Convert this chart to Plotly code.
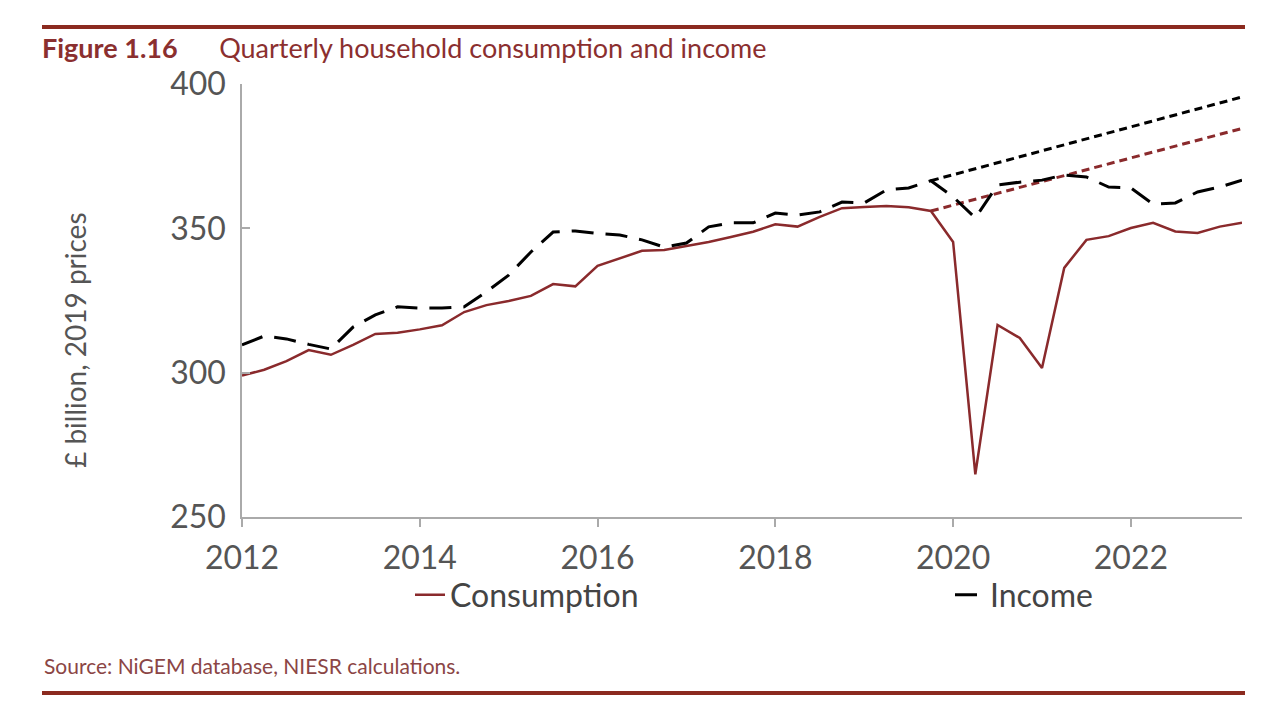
import plotly.graph_objects as go

# ---- data ----
start_year = 2012.0
consumption = [299, 301, 304, 307.8, 306.2, 309.6, 313.4, 313.8, 315, 316.4,
               321, 323.4, 324.8, 326.6, 330.7, 329.9, 337, 339.7, 342.2, 342.5,
               343.9, 345.3, 347, 348.8, 351.4, 350.6, 354, 357, 357.4, 357.7,
               357.3, 356, 345.3, 264.8, 316.5, 312, 301.6, 336.3, 346, 347.3,
               350.1, 351.9, 348.9, 348.4, 350.6, 351.9]
income = [309.6, 312.7, 311.7, 309.8, 308.2, 315.8, 320, 322.8, 322.4, 322.4,
          322.8, 328, 333.8, 341.8, 348.7, 349.1, 348.2, 347.7, 346, 343.5,
          344.9, 350.5, 351.9, 351.9, 355.3, 354.6, 355.7, 359.1, 358.8, 363.3,
          364, 366.5, 360.9, 353.6, 365, 366, 366.7, 368.5, 367.8, 364.3,
          364, 358.4, 358.8, 362.6, 364.3, 366.7]
quarters = [start_year + 0.25 * i for i in range(len(consumption))]

trend_x = [2019.75, 2023.25]
consumption_trend = [356.0, 384.6]
income_trend = [366.5, 395.5]

x_ticks = [2012, 2014, 2016, 2018, 2020, 2022]
y_ticks = [250, 300, 350, 400]

RED = "#8a2a2c"
TITLE_RED = "#8b2f2f"
RULE = "#8b2a1f"
FONT = "Lato"

# the page body adds an 8px margin, so the figure is sized to fit
W, H = 1272, 712

def px(xp):   # reference x pixel -> paper coordinate
    return (xp - 242) / 1000

def py(yp):   # reference y pixel -> paper coordinate
    return (517 - yp) / 433

fig = go.Figure()
fig.add_trace(go.Scatter(x=trend_x, y=income_trend, mode="lines",
                         line=dict(color="black", width=3, dash="8px,5px"),
                         showlegend=False, hoverinfo="skip"))
fig.add_trace(go.Scatter(x=trend_x, y=consumption_trend, mode="lines",
                         line=dict(color=RED, width=3, dash="8px,5px"),
                         showlegend=False, hoverinfo="skip"))
fig.add_trace(go.Scatter(x=quarters, y=consumption, mode="lines", name="Consumption",
                         line=dict(color=RED, width=2.5), legend="legend"))
fig.add_trace(go.Scatter(x=quarters, y=income, mode="lines", name="Income",
                         line=dict(color="black", width=3, dash="22px,12px"), legend="legend2"))

legend_common = dict(orientation="h", xanchor="left", y=py(595), yanchor="middle",
                     font=dict(family=FONT, size=32, color="#444444"),
                     bgcolor="rgba(0,0,0,0)")

fig.update_layout(
    width=W, height=H,
    paper_bgcolor="white", plot_bgcolor="white",
    margin=dict(l=234, r=38, t=76, b=203),
    font=dict(family=FONT, color="#555555"),
    title=dict(
        text="<b>Figure 1.16</b>&nbsp;&nbsp;&nbsp;&nbsp;&nbsp;&nbsp;Quarterly household consumption and income",
        x=(42 - 8) / W, xanchor="left", xref="container",
        y=1 - (49 - 8) / H, yanchor="middle",
        font=dict(family=FONT, size=27, color=TITLE_RED)),
    showlegend=True,
    legend=dict(x=px(410), **legend_common),
    legend2=dict(x=px(950), **legend_common),
    xaxis=dict(range=[2012, 2023.25], tickvals=x_ticks, ticktext=[str(v) for v in x_ticks],
               showgrid=False, zeroline=False, showline=True, linecolor="#aaaaaa", linewidth=1.5,
               ticks="outside", ticklen=8, tickcolor="#aaaaaa", tickwidth=1.5,
               ticklabelstandoff=4,
               tickfont=dict(family=FONT, size=32, color="#555555")),
    yaxis=dict(range=[250, 400], tickvals=y_ticks,
               showgrid=False, zeroline=False, showline=True, linecolor="#aaaaaa", linewidth=1.5,
               ticks="inside", ticklen=8, tickcolor="#aaaaaa", tickwidth=1.5,
               ticklabelstandoff=8,
               tickfont=dict(family=FONT, size=32, color="#555555")),
)

# y-axis title
fig.add_annotation(text="£ billion, 2019 prices", xref="paper", yref="paper",
                   x=px(75), y=py(340), textangle=-90,
                   showarrow=False, xanchor="center", yanchor="middle",
                   font=dict(family=FONT, size=28, color="#555555"))
# source
fig.add_annotation(text="Source: NiGEM database, NIESR calculations.", xref="paper", yref="paper",
                   x=px(42), y=py(665), showarrow=False,
                   xanchor="left", yanchor="middle",
                   font=dict(family=FONT, size=21, color="#8b4545"))
# top and bottom rules
for yy in (27, 693):
    fig.add_shape(type="line", xref="paper", yref="paper",
                  x0=px(42), x1=px(1245), y0=py(yy), y1=py(yy),
                  line=dict(color=RULE, width=4))

fig.write_html("out.html")
